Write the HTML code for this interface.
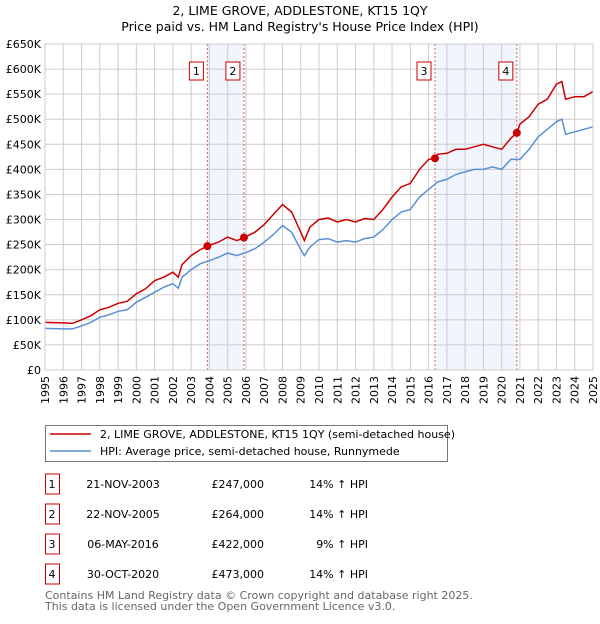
<!DOCTYPE html>
<html><head><meta charset="utf-8"><style>
body{margin:0;background:#fff;font-family:"DejaVu Sans","Liberation Sans",sans-serif;}
svg text{font-family:"DejaVu Sans","Liberation Sans",sans-serif;}
</style></head><body>
<svg id="c" width="600" height="620" viewBox="0 0 600 620">
<text x="300" y="15" text-anchor="middle" font-size="12.5">2, LIME GROVE, ADDLESTONE, KT15 1QY</text>
<text x="300" y="31" text-anchor="middle" font-size="12.5">Price paid vs. HM Land Registry's House Price Index (HPI)</text>
<g id="plot"></g>
<g>
<rect x="45.5" y="425.5" width="402" height="36" fill="#fff" stroke="#777"/>
<line x1="50" y1="434" x2="91" y2="434" stroke="#cc0000" stroke-width="1.5"/>
<text x="100" y="438" font-size="11">2, LIME GROVE, ADDLESTONE, KT15 1QY (semi-detached house)</text>
<line x1="50" y1="451" x2="91" y2="451" stroke="#5b8fd4" stroke-width="1.5"/>
<text x="100" y="455" font-size="11">HPI: Average price, semi-detached house, Runnymede</text>
</g>
<g id="table"></g>
<text x="45" y="599" font-size="11" fill="#666">Contains HM Land Registry data © Crown copyright and database right 2025.</text>
<text x="45" y="610" font-size="11" fill="#666">This data is licensed under the Open Government Licence v3.0.</text>
</svg>
<script>
const hpiYears=[1995,1996,1996.5,1997,1997.5,1998,1998.5,1999,1999.5,2000,2000.5,2001,2001.5,2002,2002.3,2002.5,2003,2003.5,2004,2004.5,2005,2005.5,2006,2006.5,2007,2007.5,2008,2008.5,2009,2009.2,2009.5,2010,2010.5,2011,2011.5,2012,2012.5,2013,2013.5,2014,2014.5,2015,2015.5,2016,2016.5,2017,2017.5,2018,2018.5,2019,2019.5,2020,2020.5,2021,2021.5,2022,2022.5,2023,2023.3,2023.5,2024,2024.5,2025];
const hpiValues=[83,82,82,88,95,105,110,117,120,135,145,155,165,172,163,185,200,212,218,225,233,228,234,242,255,270,288,275,240,228,245,260,262,255,258,255,262,265,280,300,315,320,345,360,375,380,390,395,400,400,405,400,420,420,440,465,480,495,500,470,475,480,485];
const priceYears=[1995,1996,1996.5,1997,1997.5,1998,1998.5,1999,1999.5,2000,2000.5,2001,2001.5,2002,2002.3,2002.5,2003,2003.5,2003.9,2004.5,2005,2005.5,2005.9,2006.5,2007,2007.5,2008,2008.5,2009,2009.2,2009.5,2010,2010.5,2011,2011.5,2012,2012.5,2013,2013.5,2014,2014.5,2015,2015.5,2016,2016.35,2016.5,2017,2017.5,2018,2018.5,2019,2019.5,2020,2020.5,2020.83,2021,2021.5,2022,2022.5,2023,2023.3,2023.5,2024,2024.5,2025];
const priceValues=[95,94,93,100,108,120,125,133,137,152,162,178,185,195,185,210,228,240,247,255,265,258,264,275,290,310,330,315,275,258,285,300,303,295,300,295,302,300,320,345,365,372,400,420,422,430,432,440,440,445,450,445,440,462,473,490,505,530,540,570,575,540,545,545,555];
const saleLabels=["1","2","3","4"];
const saleYears=[2003.89,2005.89,2016.35,2020.83];
const salePrices=[247,264,422,473];
const saleDates=["21-NOV-2003","22-NOV-2005","06-MAY-2016","30-OCT-2020"];
const salePriceText=["£247,000","£264,000","£422,000","£473,000"];
const saleHpiText=["14% ↑ HPI","14% ↑ HPI","9% ↑ HPI","14% ↑ HPI"];
const yTicks=[0,50,100,150,200,250,300,350,400,450,500,550,600,650];
const yTickLabels=["£0","£50K","£100K","£150K","£200K","£250K","£300K","£350K","£400K","£450K","£500K","£550K","£600K","£650K"];
const xTicks=[1995,1996,1997,1998,1999,2000,2001,2002,2003,2004,2005,2006,2007,2008,2009,2010,2011,2012,2013,2014,2015,2016,2017,2018,2019,2020,2021,2022,2023,2024,2025];

const L=45,R=593,T=44,B=370;
const xS=y=>L+(y-1995)/30*(R-L);
const yS=v=>B-v/650*(B-T);
const NS='http://www.w3.org/2000/svg';
const plot=document.getElementById('plot');
function mk(tag,attrs,parent){const e=document.createElementNS(NS,tag);for(const k in attrs)e.setAttribute(k,attrs[k]);(parent||plot).appendChild(e);return e;}

// shading bands
for(let i=0;i<saleYears.length;i+=2){
  const r=mk('rect',{x:xS(saleYears[i]),y:T,width:xS(saleYears[i+1])-xS(saleYears[i]),height:B-T,fill:'#eef3fc',opacity:0.8});
  
  
}
// grid
xTicks.forEach((t,i)=>{
  const g=mk('line',{x1:xS(t),x2:xS(t),y1:T,y2:B,stroke:'#ccc','stroke-width':1});
  
  
  const tx=mk('text',{x:0,y:0,'font-size':11,'text-anchor':'end',transform:`translate(${xS(t)+4},${B+6}) rotate(-90)`});
  tx.textContent=t;
  
  
});
yTicks.forEach((t,i)=>{
  const g=mk('line',{x1:L,x2:R,y1:yS(t),y2:yS(t),stroke:'#ccc','stroke-width':1});
  
  
  const tx=mk('text',{x:L-4,y:yS(t)+4,'font-size':11,'text-anchor':'end'});
  tx.textContent=yTickLabels[i];
  
  
});
// sale vlines
saleYears.forEach((y,i)=>{
  const l=mk('line',{x1:xS(y),x2:xS(y),y1:T,y2:B,stroke:'#e06060','stroke-width':1,'stroke-dasharray':'2,2'});
  
  
  const b=mk('rect',{x:xS(y)-18,y:62,width:14,height:18,fill:'#fff',stroke:'#cc0000'});
  
  
  const t=mk('text',{x:xS(y)-11,y:75,'font-size':11,'text-anchor':'middle'});
  t.textContent=saleLabels[i];
  
  
});
function line(xs,vs,color,name){
  const d=xs.map((x,i)=>(i?'L':'M')+xS(x).toFixed(1)+','+yS(vs[i]).toFixed(1)).join('');
  const p=mk('path',{d,fill:'none',stroke:color,'stroke-width':1.5});
  
  
}
line(hpiYears,hpiValues,'#5b8fd4','hpi-line');
line(priceYears,priceValues,'#cc0000','price-line');
saleYears.forEach((y,i)=>{
  const c=mk('circle',{cx:xS(y),cy:yS(salePrices[i]),r:4,fill:'#cc0000'});
  
  
});
mk('rect',{x:L,y:T,width:R-L,height:B-T,fill:'none',stroke:'#ccc'});
// table
const tb=document.getElementById('table');
saleLabels.forEach((s,i)=>{
  const cy=484+i*30;
  const b=mk('rect',{x:45.5,y:cy-10,width:14,height:20,fill:'#fff',stroke:'#cc0000'},tb);
  
  
  const vals=[[s,52,'middle'],[saleDates[i],123,'middle'],[salePriceText[i],264,'end'],[saleHpiText[i],368,'end']];
  const names=['table-label','table-date','table-price','table-hpi'];
  vals.forEach((v,j)=>{
    const t=mk('text',{x:v[1],y:cy+4,'font-size':11,'text-anchor':v[2]},tb);
    t.textContent=v[0];
    
    
  });
});
</script>
</body></html>
